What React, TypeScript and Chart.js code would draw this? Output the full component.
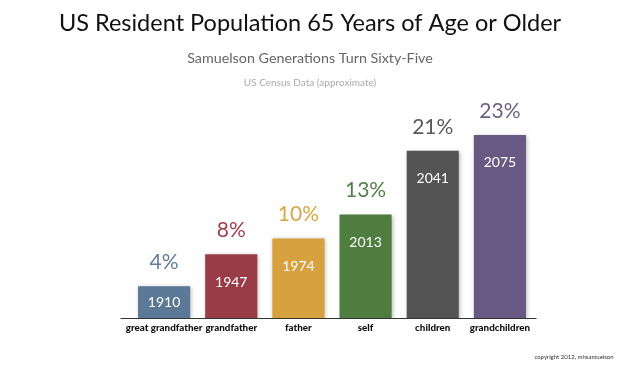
import React, { useEffect, useRef } from "react";
import { Chart, registerables } from "chart.js";

Chart.register(...registerables);

const categories = ["great grandfather", "grandfather", "father", "self", "children", "grandchildren"];
const percentages = [4, 8, 10, 13, 21, 23];
const years = ["1910", "1947", "1974", "2013", "2041", "2075"];
const barColors = ["#5b7896", "#9a3c48", "#d6a13e", "#4e7d3f", "#545454", "#685884"];
const labelColors = ["#647c96", "#a0414d", "#d8a646", "#52804a", "#5a5a5a", "#6b5f86"];

const TITLE = "US Resident Population 65 Years of Age or Older";
const SUBTITLE = "Samuelson Generations Turn Sixty-Five";
const SOURCE = "US Census Data (approximate)";
const COPYRIGHT = "copyright 2012, mhsamuelson";

const FONT = "Lato, 'Open Sans', sans-serif";

const shadowPlugin = {
  id: "barShadow",
  beforeDatasetsDraw(chart: any) {
    const ctx = chart.ctx;
    ctx.save();
    ctx.shadowColor = "rgba(0,0,0,0.28)";
    ctx.shadowBlur = 4;
    ctx.shadowOffsetX = 1;
    ctx.shadowOffsetY = 1;
  },
  afterDatasetsDraw(chart: any) {
    chart.ctx.restore();
  },
};

const textPlugin = {
  id: "texts",
  afterDraw(chart: any) {
    const ctx = chart.ctx;
    const area = chart.chartArea;
    const xs = chart.scales.x;
    ctx.save();
    ctx.strokeStyle = "#333";
    ctx.lineWidth = 1;
    ctx.beginPath();
    ctx.moveTo(area.left - 10, Math.round(area.bottom) + 0.5);
    ctx.lineTo(area.right + 3, Math.round(area.bottom) + 0.5);
    ctx.stroke();

    ctx.textAlign = "center";
    ctx.textBaseline = "middle";
    ctx.fillStyle = "#111";
    ctx.font = `400 23.5px ${FONT}`;
    ctx.fillText(TITLE, 310, 23);
    ctx.fillStyle = "#666";
    ctx.font = `400 14.3px ${FONT}`;
    ctx.fillText(SUBTITLE, 310, 58);
    ctx.fillStyle = "#aaa";
    ctx.font = `400 10px ${FONT}`;
    ctx.fillText(SOURCE, 310, 83);

    const meta = chart.getDatasetMeta(0);
    meta.data.forEach((bar: any, i: number) => {
      const x = bar.x;
      const top = bar.y;
      const bottom = bar.base;
      ctx.fillStyle = labelColors[i];
      ctx.font = `400 21px ${FONT}`;
      ctx.fillText(percentages[i] + "%", x, top - 24);
      ctx.fillStyle = "#ffffff";
      ctx.font = `400 14px ${FONT}`;
      const yy = Math.min(top + 28, (top + bottom) / 2);
      ctx.fillText(years[i], x, yy);
      ctx.fillStyle = "#111";
      ctx.font = `900 9.8px ${FONT}`;
      ctx.fillText(categories[i], xs.getPixelForValue(i), area.bottom + 10);
    });

    ctx.fillStyle = "#333";
    ctx.font = `400 6px ${FONT}`;
    ctx.fillText(COPYRIGHT, 574, 357);
    ctx.restore();
  },
};

export default function App() {
  const ref = useRef<HTMLCanvasElement>(null);
  useEffect(() => {
    if (!ref.current) return;
    const chart = new Chart(ref.current, {
      type: "bar",
      data: {
        labels: categories,
        datasets: [
          {
            data: percentages,
            backgroundColor: barColors,
            borderWidth: 0,
            categoryPercentage: 1,
            barPercentage: 0.776,
          },
        ],
      },
      options: {
        responsive: false,
        animation: false,
        layout: { padding: { left: 130.5, right: 86.5, top: 79.2, bottom: 54 } },
        plugins: { legend: { display: false }, tooltip: { enabled: false }, title: { display: false } },
        scales: {
          x: { display: false },
          y: { display: false, min: 0, max: 30 },
        },
      },
      plugins: [shadowPlugin, textPlugin],
    });
    return () => chart.destroy();
  }, []);
  return (
    <div style={{ position: "absolute", left: 0, top: 0, width: 620, height: 372, background: "#fff" }}>
      <canvas ref={ref} width={620} height={372} style={{ display: "block" }} />
    </div>
  );
}
